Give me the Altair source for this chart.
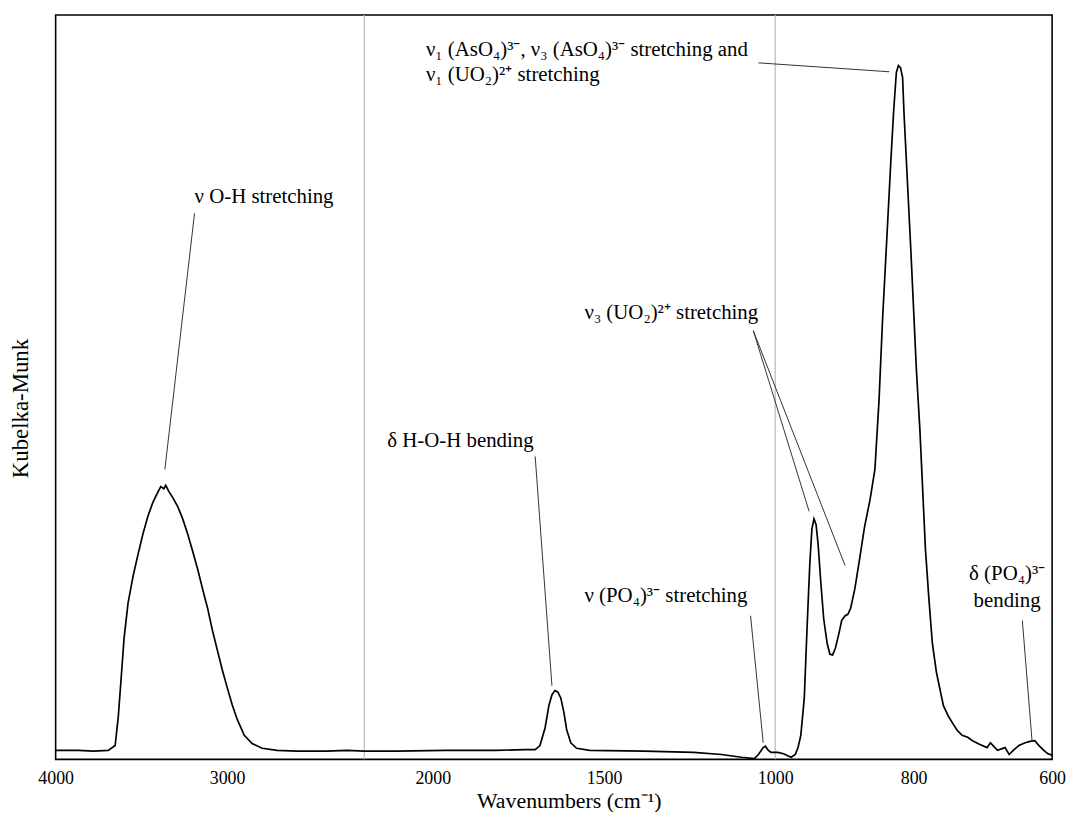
import altair as alt
import pandas as pd

FONT = "Liberation Serif"

# ---- spectrum (wavenumber in cm-1, Kubelka-Munk in arbitrary units) ----
wavenumber = [
    4000, 3930, 3867, 3780, 3693, 3653, 3635, 3618, 3601, 3578, 3549, 3520, 3491,
    3462, 3433, 3404, 3387, 3369, 3358, 3340, 3317, 3288, 3259, 3230, 3201, 3172,
    3143, 3114, 3086, 3057, 3028, 2999, 2970, 2941, 2900, 2854, 2796, 2709, 2594,
    2420, 2300,
    2200, 2107, 1962, 1817, 1730, 1701, 1687, 1672, 1661, 1652, 1643, 1635, 1626,
    1617, 1609, 1597, 1580, 1542, 1383, 1238, 1157, 1099, 1061, 1049, 1035, 1029,
    1020, 1012,
    1000, 996, 988, 977, 971, 967, 963, 958, 954, 950, 947, 944, 941, 938, 934,
    930, 925, 921, 917, 913, 908, 904, 899, 895, 891, 885, 878, 871, 863, 856,
    850, 845, 839, 833, 829, 825, 822, 819, 816, 814, 809, 804, 800, 796, 791,
    787, 783, 778, 773, 767, 761, 757, 750, 744, 737, 730, 722, 715, 705, 694,
    689, 679, 668, 662, 655, 648, 639, 632, 625, 619, 612, 606, 600,
]
km = [
    0.003, 0.003, 0.003, 0.002, 0.003, 0.010, 0.051, 0.108, 0.166, 0.217, 0.256, 0.288, 0.318,
    0.344, 0.364, 0.379, 0.387, 0.384, 0.389, 0.380, 0.371, 0.358, 0.340, 0.318, 0.293, 0.267,
    0.238, 0.210, 0.178, 0.149, 0.120, 0.094, 0.069, 0.048, 0.025, 0.013, 0.006, 0.003, 0.002,
    0.002, 0.003,
    0.002, 0.002, 0.003, 0.003, 0.004, 0.004, 0.010, 0.036, 0.068, 0.084, 0.090, 0.088, 0.079,
    0.058, 0.033, 0.014, 0.006, 0.003, 0.002, 0.000, -0.003, -0.007, -0.009, -0.003, 0.007, 0.009,
    0.003, 0.000,
    0.000, 0.000, -0.002, -0.007, -0.003, 0.007, 0.025, 0.079, 0.181, 0.275, 0.325, 0.340, 0.332, 0.303, 0.246,
    0.195, 0.159, 0.143, 0.142, 0.152, 0.173, 0.192, 0.199, 0.201, 0.210, 0.238, 0.282, 0.328, 0.368, 0.412,
    0.513, 0.629, 0.744, 0.860, 0.932, 0.990, 1.000, 0.997, 0.983, 0.932, 0.831, 0.730, 0.643, 0.556, 0.470,
    0.383, 0.296, 0.224, 0.159, 0.116, 0.087, 0.068, 0.053, 0.043, 0.032, 0.025, 0.022, 0.017, 0.012, 0.007,
    0.014, 0.003, 0.007, -0.003, 0.004, 0.010, 0.014, 0.016, 0.017, 0.010, 0.003, -0.002, -0.004,
]

# ---- axis (broken / piecewise wavenumber axis) ----
tick_values = [4000, 3000, 2000, 1500, 1000, 800, 600]
x_domain = [4000, 2200, 1000, 600]
x_range = [0, 311, 725, 1004]
break_positions = [2200, 1000]
y_domain = [-0.0101, 1.0737]

# ---- annotations ----
ann_text = [
    "ν O-H stretching",
    "δ H-O-H bending",
    "ν (PO₄)³⁻ stretching",
    "ν₃ (UO₂)²⁺ stretching",
    "ν₁ (AsO₄)³⁻, ν₃ (AsO₄)³⁻ stretching and",
    "ν₁ (UO₂)²⁺ stretching",
]
ann_x = [3190, 2133, 1557, 1557, 2020, 2020]
ann_y = [0.809, 0.454, 0.228, 0.640, 1.023, 0.986]

ann_c_text = ["δ (PO₄)³⁻", "bending"]
ann_c_x = [665, 665]
ann_c_y = [0.260, 0.220]

lead_x1 = [3190, 1701, 1072, 1064, 1064, 1049, 643]
lead_y1 = [0.785, 0.431, 0.199, 0.614, 0.614, 1.004, 0.192]
lead_x2 = [3363, 1652, 1035, 951, 899, 835, 629]
lead_y2 = [0.412, 0.097, 0.014, 0.351, 0.272, 0.991, 0.017]

spec_df = pd.DataFrame({"wn": wavenumber, "km": km})
break_df = pd.DataFrame({"wn": break_positions})
ann_df = pd.DataFrame({"wn": ann_x, "km": ann_y, "label": ann_text})
ann_c_df = pd.DataFrame({"wn": ann_c_x, "km": ann_c_y, "label": ann_c_text})
lead_df = pd.DataFrame({"wn": lead_x1, "km": lead_y1, "wn2": lead_x2, "km2": lead_y2})

xscale = alt.Scale(domain=x_domain, range=x_range, nice=False, zero=False)
yscale = alt.Scale(domain=y_domain, nice=False, zero=False)

xaxis = alt.Axis(
    values=tick_values, format="d",
    labelFont=FONT, labelFontSize=18, labelColor="black", labelFlush=False,
    labelPadding=24, labelBaseline="alphabetic", labelOverlap=False,
    ticks=False, tickSize=0, domain=False, grid=False,
    title="Wavenumbers (cm⁻¹)", titleFont=FONT, titleFontSize=22,
    titleFontWeight="normal", titleColor="black",
    titleX=517, titleY=49, titleBaseline="alphabetic",
)
yaxis = alt.Axis(
    labels=False, ticks=False, domain=False, grid=False,
    title="Kubelka-Munk", titleFont=FONT, titleFontSize=23,
    titleFontWeight="normal", titleColor="black",
    titleX=-35, titleY=396, titleAngle=270, titleBaseline="middle", titleAlign="center",
)

X = alt.X("wn:Q", scale=xscale, axis=xaxis)
Y = alt.Y("km:Q", scale=yscale, axis=yaxis)

breaks = alt.Chart(break_df).mark_rule(color="#b8b8b8", strokeWidth=1.2).encode(x=X)

line = alt.Chart(spec_df).mark_line(color="black", strokeWidth=1.7).encode(x=X, y=Y)

leaders = alt.Chart(lead_df).mark_rule(color="#333333", strokeWidth=1).encode(
    x=X, y=Y, x2="wn2:Q", y2="km2:Q"
)

texts = alt.Chart(ann_df).mark_text(
    font=FONT, fontSize=21, align="left", baseline="middle", color="black"
).encode(x=X, y=Y, text="label:N")

texts_c = alt.Chart(ann_c_df).mark_text(
    font=FONT, fontSize=21, align="center", baseline="middle", color="black"
).encode(x=X, y=Y, text="label:N")

chart = alt.layer(breaks, line, leaders, texts, texts_c).properties(
    width=1004, height=750,
    padding={"left": 48, "top": 4, "right": 15, "bottom": 50},
    autosize=alt.AutoSizeParams(type="none"),
).configure_view(stroke="black", strokeWidth=1.6)

chart.save("out.html", embed_options={"renderer": "svg", "actions": False})
